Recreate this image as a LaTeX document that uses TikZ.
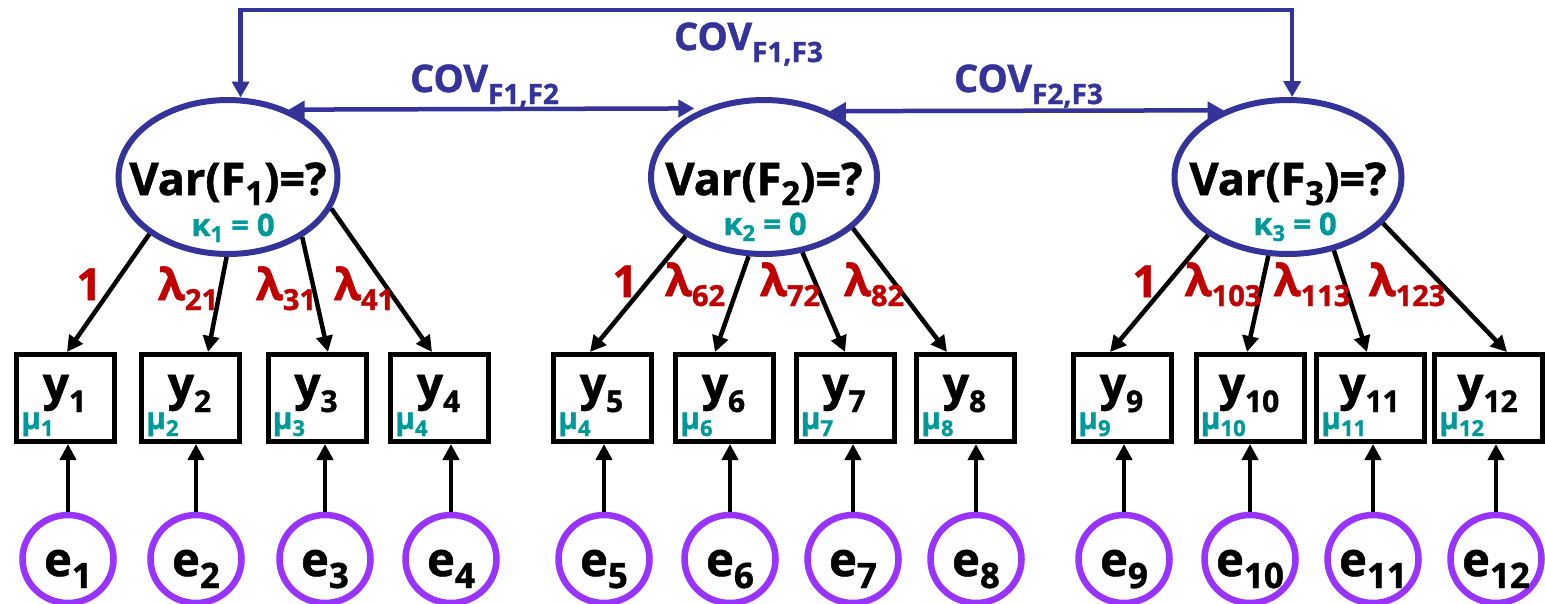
\documentclass[tikz,border=0pt]{standalone}
\usepackage{fontspec}
\setmainfont{Open Sans}[BoldFeatures={FakeBold=1.2}]
\usetikzlibrary{arrows.meta,shapes.geometric}
\definecolor{navyc}{RGB}{51,51,153}
\definecolor{tealc}{RGB}{0,153,153}
\definecolor{redc}{RGB}{192,0,0}
\definecolor{purc}{RGB}{153,51,255}
\newcommand\dsub[3]{\raisebox{#1}{\fontsize{#2}{#2}\selectfont #3}}
\tikzset{
  fac/.style={ellipse, draw=navyc, line width=6pt, minimum height=154pt, inner sep=0pt},
  obs/.style={rectangle, draw=black, line width=5pt, minimum width=98pt, minimum height=87pt, inner sep=0pt},
  obsw/.style={obs, minimum width=108pt},
  err/.style={ellipse, draw=purc, line width=6.5pt, minimum width=91pt, minimum height=88pt, inner sep=0pt},
  loadarr/.style={-{Triangle[length=16pt,width=16pt]}, line width=4.5pt, draw=black},
  covarr/.style={{Triangle[length=16pt,width=17pt]}-{Triangle[length=16pt,width=17pt]}, line width=4.5pt, draw=navyc},
  vartext/.style={anchor=base, inner sep=0pt, font=\fontsize{45pt}{45pt}\selectfont\bfseries},
  kaptext/.style={anchor=base, inner sep=0pt, text=tealc, font=\fontsize{31pt}{31pt}\selectfont\bfseries},
  ytext/.style={anchor=base, inner sep=0pt, font=\fontsize{46pt}{46pt}\selectfont\bfseries},
  mutext/.style={anchor=base west, inner sep=0pt, text=tealc, font=\fontsize{30pt}{30pt}\selectfont\bfseries},
  etext/.style={anchor=base, inner sep=0pt, font=\fontsize{47pt}{47pt}\selectfont\bfseries},
  lamtext/.style={anchor=base, inner sep=0pt, text=redc, font=\fontsize{44pt}{44pt}\selectfont\bfseries},
  covtext/.style={anchor=base, inner sep=0pt, text=navyc, font=\fontsize{38pt}{38pt}\selectfont\bfseries},
}
\begin{document}
\begin{tikzpicture}[x=1pt,y=-1pt]
\useasboundingbox (0,0) rectangle (1545,603);
% factors
\node[fac, minimum width=219pt] (F1) at (228,177) {};
\node[fac, minimum width=226pt] (F2) at (764,177) {};
\node[fac, minimum width=227pt] (F3) at (1288,177) {};
\foreach \f in {1,2,3}
  \node[vartext] (F\f t) at ([yshift=-18pt]F\f.center) {Var(F\dsub{-10pt}{33pt}{\f})=?};
\node[kaptext] (k1) at ([xshift=5pt,yshift=-59pt]F1.center) {κ\dsub{-6pt}{22pt}{1} = 0};
\node[kaptext] (k2) at ([xshift=1pt,yshift=-58pt]F2.center) {κ\dsub{-6pt}{22pt}{2} = 0};
\node[kaptext] (k3) at ([xshift=7pt,yshift=-58pt]F3.center) {κ\dsub{-6pt}{22pt}{3} = 0};
% observed
\foreach \i/\x in {1/65.5,2/190.5,3/317,4/439.5,5/602.5,6/724.5,7/845,8/965.5,9/1122.5}
  \node[obs] (y\i) at (\x,398) {};
\foreach \i/\x in {10/1250,11/1370.5,12/1488.5}
  \node[obsw] (y\i) at (\x,398) {};
\foreach \i in {1,...,12}
  \node[ytext] (y\i t) at ([xshift=-1pt,yshift=-2pt]y\i.center) {y\dsub{-12pt}{30pt}{\i}};
\foreach \i/\m in {1/1,2/2,3/3,4/4,5/4,6/6,7/7,8/8,9/9,10/10,11/11,12/12}
  \node[mutext] (m\i) at ([xshift=7pt,yshift=-31pt]y\i.west) {μ\dsub{-7pt}{22pt}{\m}};
% errors
\foreach \i/\x in {1/68,2/196,3/325,4/451,5/604,6/730,7/853,8/976,9/1124,10/1250,11/1373,12/1496}{
  \node[err] (e\i) at (\x,559) {};
  \node[etext] (e\i t) at ([yshift=-17pt]e\i.center) {e\dsub{-12pt}{35pt}{\i}};
  \draw[loadarr] (e\i) -- (e\i |- y\i.south);
}
% loadings
\foreach \f/\y/\a/\dx in {1/1/-144/1.5, 1/2/-91/17.5, 1/3/-39/11, 1/4/-17/-7.5,
  2/5/-143/-12.5, 2/6/-101/-9.5, 2/7/-63/0, 2/8/-30/-18.5,
  3/9/-144/-12.5, 3/10/-104/-3, 3/11/-58/-3.5, 3/12/-26/18.5}
  \draw[loadarr] (F\f.\a) -- ([xshift=\dx pt]y\y.north);
\node[lamtext] (l1) at (89,300) {1};
\node[lamtext] (l2) at (188,300) {λ\dsub{-10pt}{29pt}{21}};
\node[lamtext] (l3) at (286,300) {λ\dsub{-10pt}{29pt}{31}};
\node[lamtext] (l4) at (364,300) {λ\dsub{-10pt}{29pt}{41}};
\node[lamtext] (l5) at (625,297) {1};
\node[lamtext] (l6) at (695,296) {λ\dsub{-10pt}{29pt}{62}};
\node[lamtext] (l7) at (790,296) {λ\dsub{-10pt}{29pt}{72}};
\node[lamtext] (l8) at (874,296) {λ\dsub{-10pt}{29pt}{82}};
\node[lamtext] (l9) at (1145,297) {1};
\node[lamtext] (l10) at (1223,296) {λ\dsub{-10pt}{29pt}{103}};
\node[lamtext] (l11) at (1312,296) {λ\dsub{-10pt}{29pt}{113}};
\node[lamtext] (l12) at (1407,296) {λ\dsub{-10pt}{29pt}{123}};
% covariances
\coordinate (topy) at (0,10);
\draw[covarr] (F1.81) -- (F1.81 |- topy) -| (F3.87);
\draw[covarr, shorten >=10pt] (F1.48) -- (F2.131);
\draw[covarr] (F2.45) -- (F3.134);
\node[covtext] (c12) at (484.5,92) {COV\dsub{-12pt}{28pt}{F1,F2}};
\node[covtext] (c23) at (1028.5,92) {COV\dsub{-12pt}{28pt}{F2,F3}};
\node[covtext] (c13) at (748.5,50) {COV\dsub{-12pt}{28pt}{F1,F3}};
\end{tikzpicture}
\end{document}
